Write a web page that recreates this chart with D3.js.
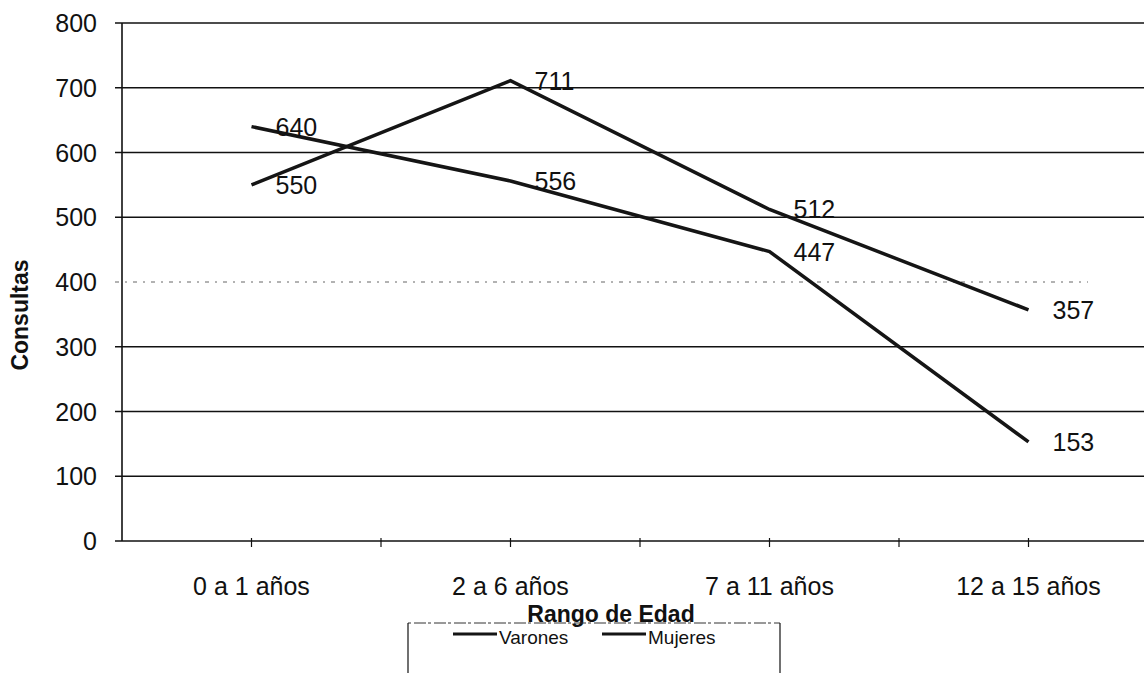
<!DOCTYPE html>
<html>
<head>
<meta charset="utf-8">
<script src="https://cdn.jsdelivr.net/npm/d3@7"></script>
<style>
  body { margin: 0; background: #fff; }
  text { font-family: "Liberation Sans", Arial, sans-serif; fill: #111; }
</style>
</head>
<body>
<div id="chart-area"></div>
<script>
// data
var categories = ['0 a 1 años', '2 a 6 años', '7 a 11 años', '12 a 15 años'];
var varones = [550, 711, 512, 357];
var mujeres = [640, 556, 447, 153];
var seriesNames = ['Varones', 'Mujeres'];
var yTicks = [0, 100, 200, 300, 400, 500, 600, 700, 800];

var W = 1144, H = 673;
var margin = { left: 122, top: 23, right: -14, bottom: 132 };
var width = W - margin.left - margin.right,
    height = H - margin.top - margin.bottom;

var svg = d3.select('#chart-area').append('svg')
    .attr('width', W).attr('height', H);

var g = svg.append('g')
    .attr('transform', 'translate(' + margin.left + ',' + margin.top + ')');

// scales
var xScale = d3.scaleBand().domain(categories).range([0, width]);
var yScale = d3.scaleLinear().domain([0, 800]).range([height, 0]);
var xMid = function(c) { return xScale(c) + xScale.bandwidth() / 2; };

// gridlines (400 one is faint / broken in the scan)
g.selectAll('.grid').data(yTicks.filter(function(d) { return d > 0; }))
  .enter().append('line')
    .attr('x1', -7).attr('x2', function(d) { return d === 400 ? width - 70 : width; })
    .attr('y1', function(d) { return yScale(d); })
    .attr('y2', function(d) { return yScale(d); })
    .attr('stroke', function(d) { return d === 400 ? '#666' : '#111'; })
    .attr('stroke-width', function(d) { return d === 400 ? 1 : 1.6; })
    .attr('stroke-dasharray', function(d) { return d === 400 ? '4,6,2,6' : null; });

// y axis
g.append('line').attr('x1', 0).attr('x2', 0).attr('y1', 0).attr('y2', height)
    .attr('stroke', '#111').attr('stroke-width', 1.6);
g.selectAll('.ylab').data(yTicks).enter().append('text')
    .attr('x', -25).attr('y', function(d) { return yScale(d); })
    .attr('dy', '0.36em').attr('text-anchor', 'end')
    .style('font-size', '25px')
    .text(function(d) { return d; });

// x axis
g.append('line').attr('x1', -7).attr('x2', width).attr('y1', height).attr('y2', height)
    .attr('stroke', '#111').attr('stroke-width', 1.6);
var tickPos = categories.slice(1).map(function(c) { return xScale(c); })
    .concat(categories.map(xMid));
g.selectAll('.xtick').data(tickPos).enter().append('line')
    .attr('x1', function(d) { return d; }).attr('x2', function(d) { return d; })
    .attr('y1', height - 3).attr('y2', height + 6)
    .attr('stroke', '#111').attr('stroke-width', 1.2);
g.selectAll('.xlab').data(categories).enter().append('text')
    .attr('x', xMid)
    .attr('y', height + 54).attr('text-anchor', 'middle')
    .style('font-size', '25px')
    .text(function(d) { return d; });

// axis titles
svg.append('text').attr('x', 611).attr('y', 622)
    .attr('text-anchor', 'middle').style('font-size', '23px').style('font-weight', 'bold')
    .text('Rango de Edad');
svg.append('text').attr('transform', 'translate(28,315) rotate(-90)')
    .attr('text-anchor', 'middle').style('font-size', '23px').style('font-weight', 'bold')
    .text('Consultas');

// lines
var line = d3.line()
    .x(function(d, i) { return xMid(categories[i]); })
    .y(function(d) { return yScale(d); });

[varones, mujeres].forEach(function(vals) {
  g.append('path').datum(vals)
    .attr('d', line)
    .attr('fill', 'none').attr('stroke', '#151515').attr('stroke-width', 3.5)
    .attr('stroke-linejoin', 'miter');

  g.selectAll(null).data(vals).enter().append('text')
    .attr('x', function(d, i) { return xMid(categories[i]) + 24; })
    .attr('y', function(d) { return yScale(d); })
    .attr('dy', '0.36em')
    .style('font-size', '25px')
    .text(function(d) { return d; });
});

// legend (box is cut off at the bottom edge)
var legend = svg.append('g').attr('transform', 'translate(408,623)');
legend.append('line').attr('x1', 0).attr('x2', 372).attr('y1', 0).attr('y2', 0)
    .attr('stroke', '#333').attr('stroke-width', 1).attr('stroke-dasharray', '3,3,12,2');
legend.append('line').attr('x1', 0).attr('x2', 0).attr('y1', 0).attr('y2', 60)
    .attr('stroke', '#111').attr('stroke-width', 1.2);
legend.append('line').attr('x1', 372).attr('x2', 372).attr('y1', 0).attr('y2', 60)
    .attr('stroke', '#111').attr('stroke-width', 1.2);

seriesNames.forEach(function(name, i) {
  var row = legend.append('g').attr('transform', 'translate(' + (45 + i * 149) + ',11)');
  row.append('line').attr('x1', 0).attr('x2', 44).attr('y1', 0).attr('y2', 0)
    .attr('stroke', '#151515').attr('stroke-width', 3);
  row.append('text').attr('x', 46).attr('y', 0).attr('dy', '0.5em')
    .style('font-size', '19px').text(name);
});
</script>
</body>
</html>
